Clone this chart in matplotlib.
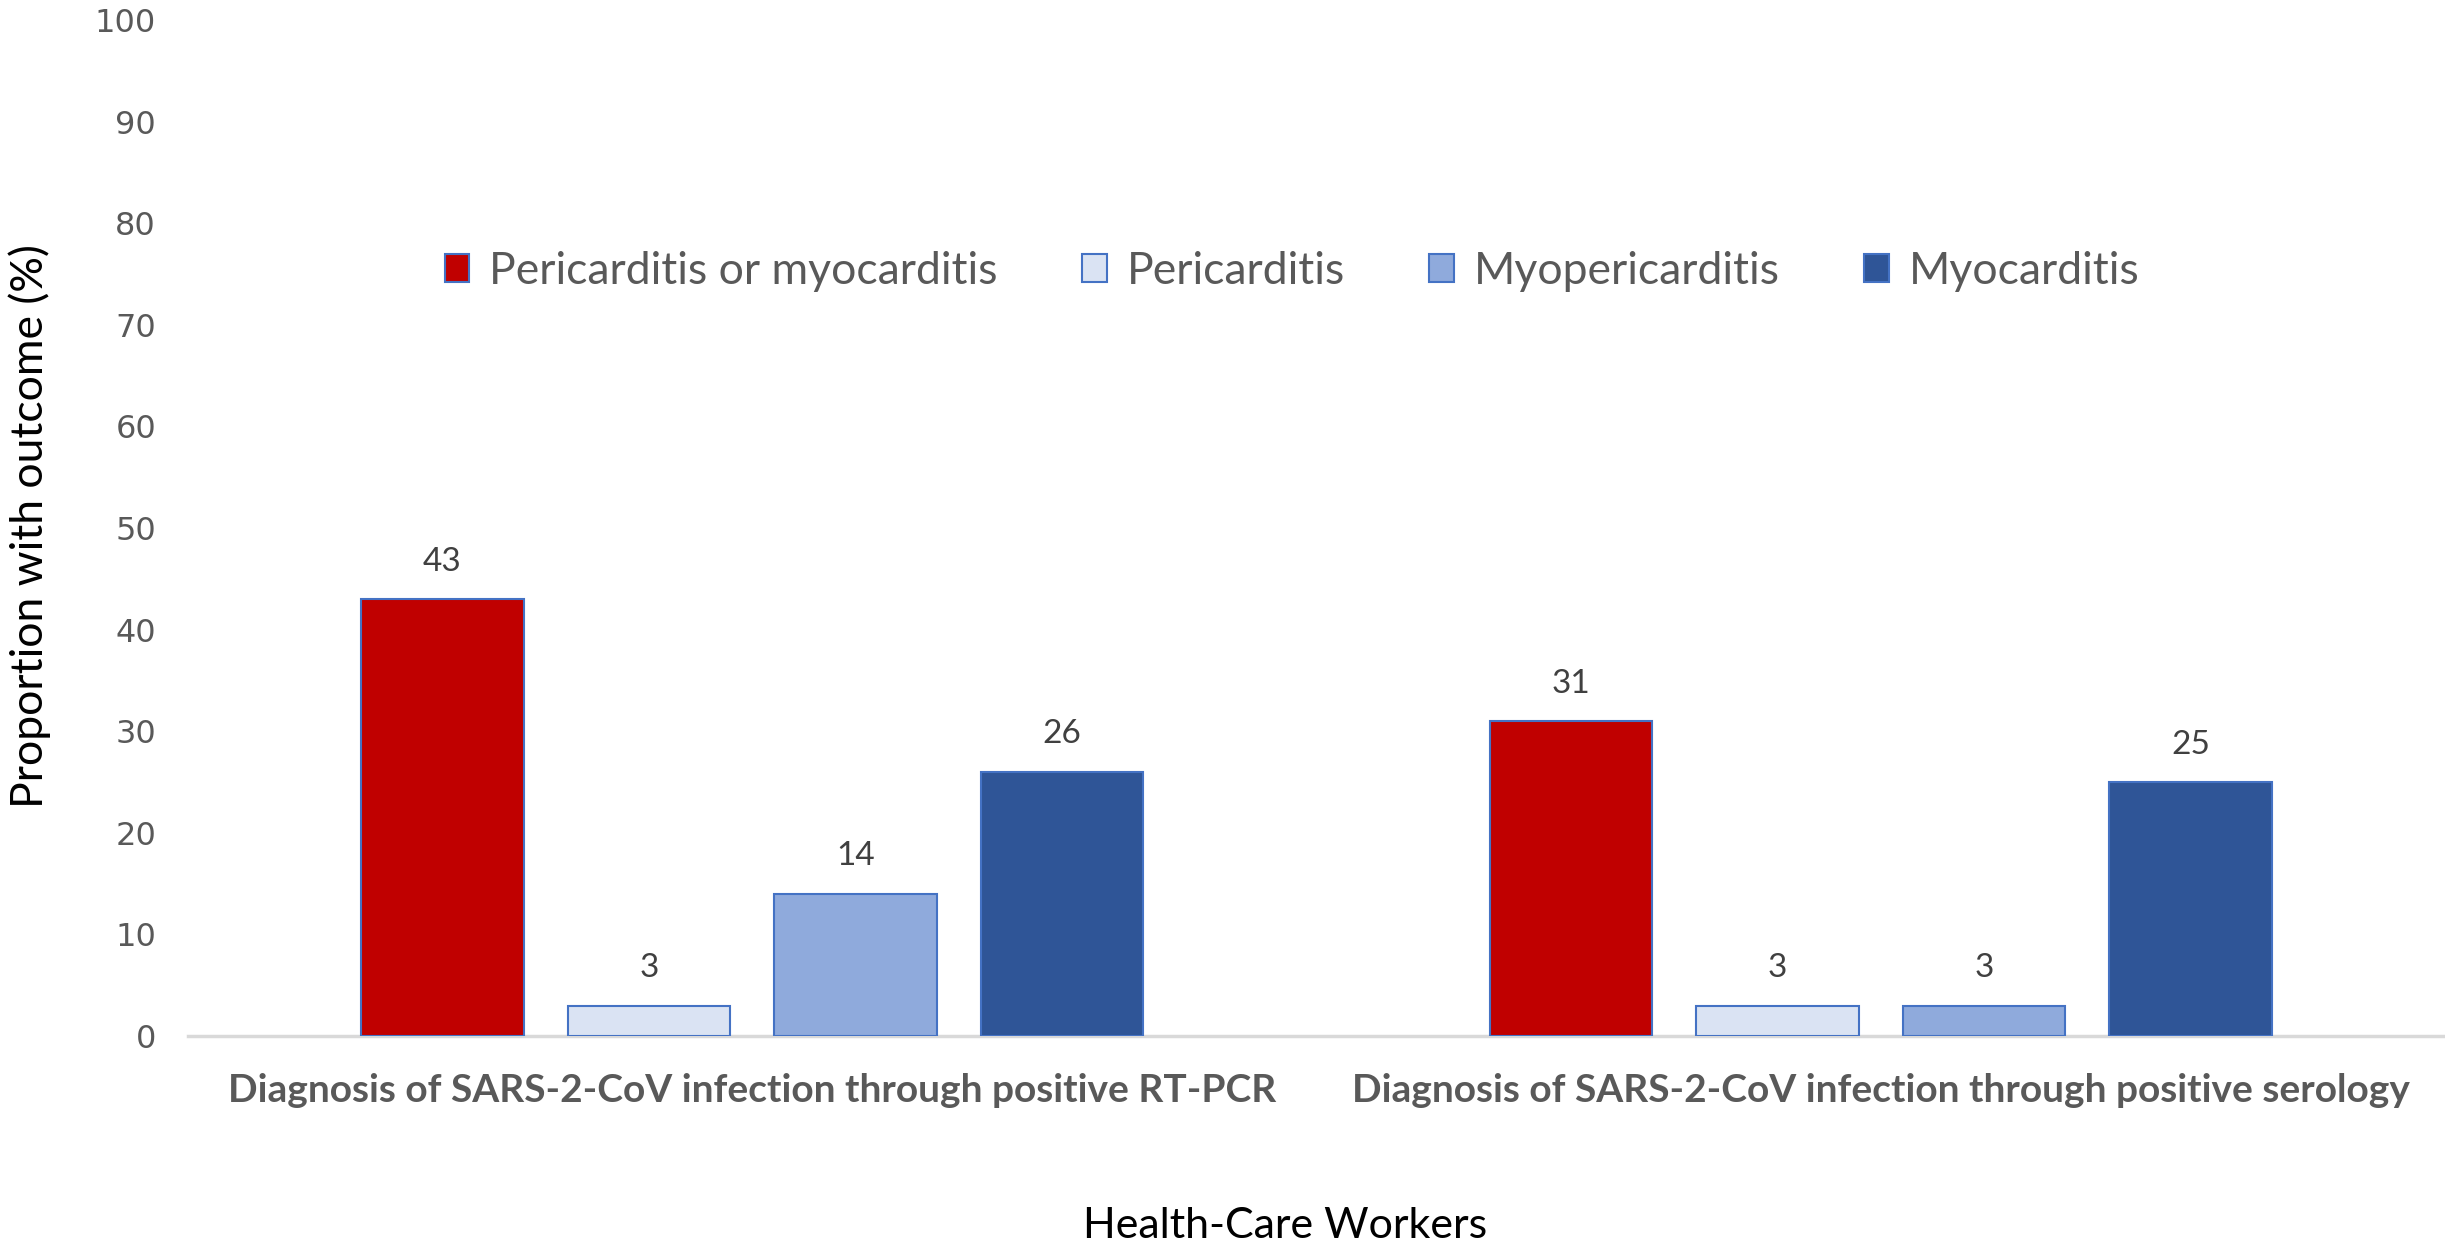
import matplotlib
matplotlib.use('Agg')
from matplotlib import pyplot as plt
import numpy as np

categories = ['Diagnosis of SARS-2-CoV infection through positive RT-PCR',
              'Diagnosis of SARS-2-CoV infection through positive serology']
series = ['Pericarditis or myocarditis', 'Pericarditis', 'Myopericarditis', 'Myocarditis']
values = {
    'Pericarditis or myocarditis': [43, 31],
    'Pericarditis': [3, 3],
    'Myopericarditis': [14, 3],
    'Myocarditis': [26, 25],
}
colors = ['#C00000', '#DAE3F3', '#8FAADC', '#2F5597']
yticks = [0, 10, 20, 30, 40, 50, 60, 70, 80, 90, 100]

narrow = ['Lato', 'DejaVu Sans']

fig = plt.figure(figsize=(24.45, 12.5), dpi=100)
ax = fig.add_axes([188/2445, 1 - 1036/1250, 1 - 188/2445, 1016/1250])

x = np.arange(len(categories))
step = 0.183
width = 0.144
for i, name in enumerate(series):
    pos = x + (i - 1.5) * step
    bars = ax.bar(pos, values[name], width, color=colors[i], edgecolor='#4472C4',
                  linewidth=1.5, label=name, zorder=3)
    for b, v in zip(bars, values[name]):
        ax.text(b.get_x() + b.get_width() / 2, v + 2.2, str(v), ha='center', va='bottom',
                fontsize=24, color='#404040', family=narrow)

ax.set_xlim(-0.5, 1.5)
ax.set_ylim(0, 100)
ax.set_yticks(yticks)
ax.set_yticklabels([str(t) for t in yticks], fontsize=23, color='#595959')
ax.set_xticks(x)
ax.set_xticklabels(categories, fontsize=28, fontweight='bold', color='#595959', family=narrow)
ax.tick_params(axis='both', length=0)
ax.tick_params(axis='y', pad=23)
ax.tick_params(axis='x', pad=27)
for s in ['top', 'right', 'left']:
    ax.spines[s].set_visible(False)
ax.spines['bottom'].set_color('#D9D9D9')
ax.spines['bottom'].set_linewidth(2.5)

fig.text(30/2445, 1 - 526/1250, 'Proportion with outcome (%)', rotation=90,
         ha='center', va='center', fontsize=32, color='black', family=narrow)
fig.text(1285/2445, 1 - 1226/1250, 'Health-Care Workers', ha='center', va='center',
         fontsize=31, color='black', family=narrow)

leg = ax.legend(loc='center', bbox_to_anchor=(1292/2445, 1 - 271/1250),
                bbox_transform=fig.transFigure, ncol=4, frameon=False,
                prop={'family': narrow, 'size': 32}, handlelength=0.55, handleheight=0.6,
                handletextpad=0.45, columnspacing=1.9)
for t in leg.get_texts():
    t.set_color('#595959')

fig.savefig('out.png', dpi=100)
